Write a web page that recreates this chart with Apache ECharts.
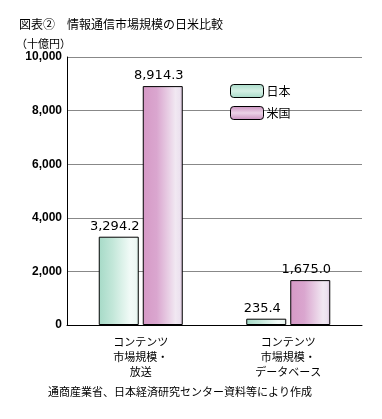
<!DOCTYPE html>
<html><head><meta charset="utf-8">
<script src="https://cdn.jsdelivr.net/npm/echarts@6/dist/echarts.min.js"></script>
<style>html,body{margin:0;padding:0;background:#fff}#c{width:382px;height:419px}</style>
</head><body><div id="c"></div>
<script>
const categories = ['コンテンツ\n市場規模・\n放送', 'コンテンツ\n市場規模・\nデータベース'];
const seriesNames = ['日本', '米国'];
const japanValues = [3294.2, 235.4];
const usValues = [8914.3, 1675.0];
const yTicks = [0, 2000, 4000, 6000, 8000, 10000];

const FONT = '"Noto Sans CJK JP", "Liberation Sans", sans-serif';
const G = echarts.graphic;
const jpFill = new G.LinearGradient(0, 0, 1, 0, [
  {offset: 0, color: '#a6dac7'}, {offset: 0.35, color: '#c3e7d9'},
  {offset: 0.8, color: '#f3fbf8'}, {offset: 0.92, color: '#eef8f4'}, {offset: 1, color: '#d8ede5'}]);
const usFill = new G.LinearGradient(0, 0, 1, 0, [
  {offset: 0, color: '#d699c6'}, {offset: 0.35, color: '#daa6cf'},
  {offset: 0.82, color: '#f1e8f2'}, {offset: 0.92, color: '#ece2ef'}, {offset: 1, color: '#d7bfd9'}]);
const jpLeg = new G.LinearGradient(0, 0, 0, 1, [
  {offset: 0, color: '#a6dac7'}, {offset: 0.5, color: '#d6f0e5'}, {offset: 1, color: '#a6dac7'}]);
const usLeg = new G.LinearGradient(0, 0, 0, 1, [
  {offset: 0, color: '#c98fbe'}, {offset: 0.5, color: '#ecd3e7'}, {offset: 1, color: '#c98fbe'}]);

const fmt = v => v.toLocaleString('en-US', {minimumFractionDigits: 1, maximumFractionDigits: 1});
const labelStyle = {show: true, position: 'top', distance: 4, offset: [-4, 0], fontSize: 13, color: '#000',
  fontFamily: '"DejaVu Sans", sans-serif', formatter: p => fmt(p.value)};

const chart = echarts.init(document.getElementById('c'));
chart.setOption({
  animation: false,
  textStyle: {fontFamily: FONT},
  graphic: [
    {type: 'text', left: 19, top: 18, style: {text: '図表②　情報通信市場規模の日米比較', font: '12px ' + FONT, fill: '#000'}},
    {type: 'text', left: 16, top: 38, style: {text: '（十億円）', font: '11px ' + FONT, fill: '#000'}},
    {type: 'text', left: 48, top: 386, style: {text: '通商産業省、日本経済研究センター資料等により作成', font: '11px ' + FONT, fill: '#000'}}
  ],
  legend: {
    orient: 'vertical', left: 230, top: 84, padding: 0, itemWidth: 33, itemHeight: 13, itemGap: 8,
    textStyle: {fontSize: 12, color: '#000', fontFamily: FONT, padding: [0, 0, 0, -2]},
    data: [
      {name: seriesNames[0], itemStyle: {color: jpLeg, borderColor: '#000', borderWidth: 1}},
      {name: seriesNames[1], itemStyle: {color: usLeg, borderColor: '#000', borderWidth: 1}}
    ]
  },
  grid: {left: 67, right: 20, top: 57, bottom: 94},
  xAxis: {
    type: 'category', data: categories,
    axisLine: {lineStyle: {color: '#000', width: 1}},
    axisTick: {show: false},
    axisLabel: {fontSize: 11, lineHeight: 15, color: '#000', margin: 9, fontFamily: FONT}
  },
  yAxis: {
    type: 'value', min: yTicks[0], max: yTicks[yTicks.length - 1], interval: 2000,
    axisLine: {show: true, lineStyle: {color: '#000', width: 1}},
    axisTick: {show: false},
    splitLine: {lineStyle: {color: '#888', width: 1}},
    axisLabel: {fontSize: 12, fontWeight: 'bold', color: '#000', margin: 5,
      fontFamily: '"Liberation Sans", sans-serif',
      formatter: v => v.toLocaleString('en-US')}
  },
  series: [
    {name: seriesNames[0], type: 'bar', data: japanValues, barWidth: 40, barGap: '10%',
     itemStyle: {color: jpFill, borderColor: '#000', borderWidth: 1}, label: labelStyle},
    {name: seriesNames[1], type: 'bar', data: usValues, barWidth: 40,
     itemStyle: {color: usFill, borderColor: '#000', borderWidth: 1}, label: labelStyle}
  ]
});
</script></body></html>
